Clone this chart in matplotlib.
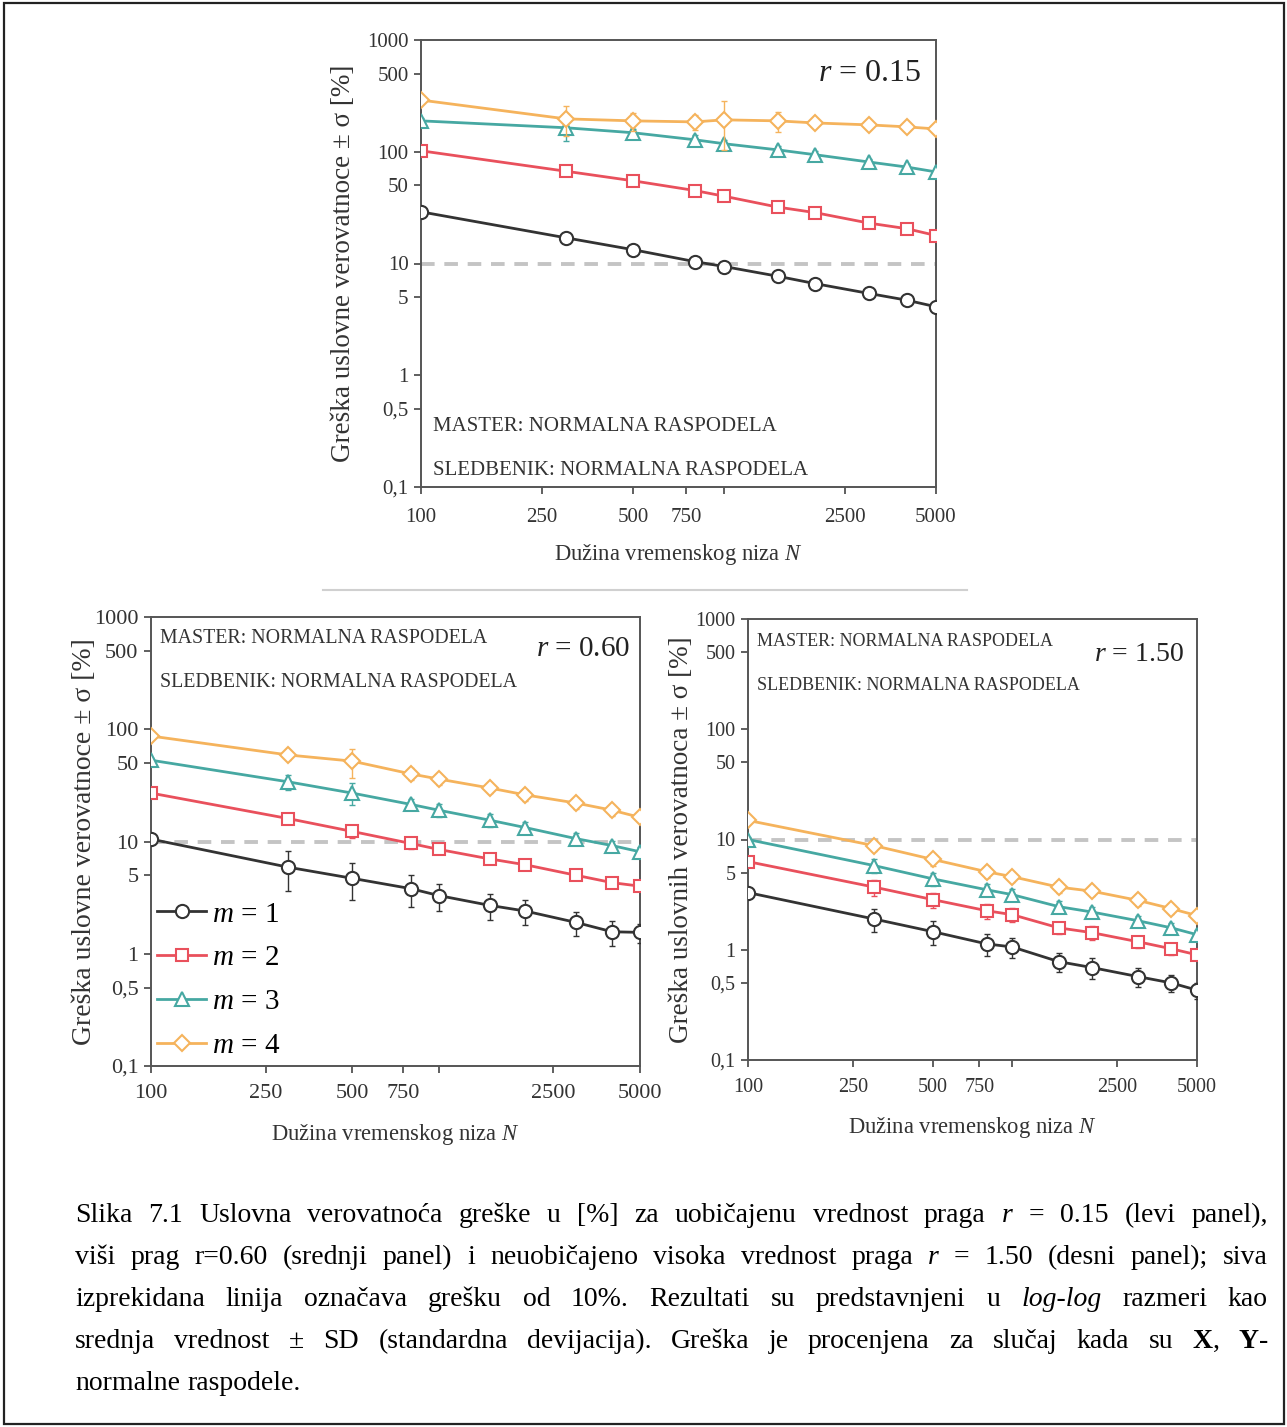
import re
import numpy as np
import matplotlib
matplotlib.use("Agg")
import matplotlib.pyplot as plt
from matplotlib.ticker import FixedLocator, FixedFormatter, NullLocator

plt.rcParams['font.family'] = ['Liberation Serif', 'DejaVu Serif']
plt.rcParams['mathtext.fontset'] = 'custom'
plt.rcParams['mathtext.rm'] = 'Liberation Serif'
plt.rcParams['mathtext.it'] = 'Liberation Serif:italic'
plt.rcParams['mathtext.bf'] = 'Liberation Serif:bold'

W, H = 1287, 1427

# duzina niza N
N = [100, 300, 500, 800, 1000, 1500, 2000, 3000, 4000, 5000]

# r = 0.15
r015_m1 = [29, 17, 13.3, 10.4, 9.4, 7.7, 6.6, 5.4, 4.7, 4.1]
r015_m2 = [102, 67, 55, 45, 40, 32, 28.5, 23, 20.5, 17.8]
r015_m3 = [189, 164, 148, 128, 118, 104, 94, 81, 73, 66]
r015_m4 = [290, 197, 189, 185, 193, 189, 181, 174, 167, 160]
r015_sd1 = [1.0, 1.2, 0.9, 0.7, 0.6, 0.4, 0.35, 0.3, 0.25, 0.2]
r015_sd2 = [4, 4, 3, 3, 2.5, 2, 1.8, 1.5, 1.2, 1.0]
r015_sd3 = [10, 40, 12, 12, 10, 9, 7, 6, 5, 4]
r015_sd4 = [15, 60, 35, 30, 90, 40, 15, 12, 10, 8]

# r = 0.60
r060_m1 = [10.5, 5.9, 4.7, 3.8, 3.3, 2.7, 2.4, 1.9, 1.57, 1.55]
r060_m2 = [27, 16, 12.3, 9.6, 8.5, 7.0, 6.2, 5.0, 4.3, 4.0]
r060_m3 = [53, 34, 27, 21.4, 19, 15.5, 13.3, 10.6, 9.2, 8.1]
r060_m4 = [87, 59, 52, 40, 36, 30, 26, 22, 19, 16.4]
r060_sd1 = [0.5, 2.3, 1.7, 1.2, 0.9, 0.7, 0.6, 0.45, 0.4, 0.3]
r060_sd2 = [1.5, 1.8, 1.5, 1.0, 0.8, 0.6, 0.6, 0.4, 0.35, 0.3]
r060_sd3 = [2.5, 5, 6, 2.5, 2.5, 2, 1.5, 1.2, 1.0, 0.8]
r060_sd4 = [4, 6, 15, 5, 4, 3, 3, 2.5, 2, 1.5]

# r = 1.50
r150_m1 = [3.3, 1.9, 1.46, 1.13, 1.06, 0.78, 0.69, 0.57, 0.5, 0.43]
r150_m2 = [6.3, 3.7, 2.85, 2.26, 2.08, 1.58, 1.43, 1.18, 1.02, 0.9]
r150_m3 = [10, 5.8, 4.4, 3.5, 3.16, 2.46, 2.2, 1.83, 1.58, 1.37]
r150_m4 = [14.9, 8.8, 6.6, 5.1, 4.6, 3.7, 3.4, 2.8, 2.36, 2.04]
r150_sd1 = [0.2, 0.45, 0.35, 0.25, 0.22, 0.15, 0.15, 0.11, 0.09, 0.07]
r150_sd2 = [0.5, 0.6, 0.45, 0.35, 0.3, 0.2, 0.2, 0.15, 0.12, 0.1]
r150_sd3 = [0.6, 0.8, 0.6, 0.45, 0.4, 0.3, 0.25, 0.2, 0.18, 0.15]
r150_sd4 = [0.8, 1.0, 0.8, 0.6, 0.5, 0.4, 0.35, 0.3, 0.25, 0.2]

colors = ['#333333', '#e9505c', '#46a8a2', '#f5b35c']
markers = ['o', 's', '^', 'D']
msizes = [9.5, 8.5, 9.5, 8.5]
labels = ['$\\mathit{m}$ = 1', '$\\mathit{m}$ = 2', '$\\mathit{m}$ = 3', '$\\mathit{m}$ = 4']

yticks = [0.1, 0.5, 1, 5, 10, 50, 100, 500, 1000]
ytick_labels = ['0,1', '0,5', '1', '5', '10', '50', '100', '500', '1000']
xticks = [100, 250, 500, 750, 1000, 2500, 5000]
xtick_labels = ['100', '250', '500', '750', '', '2500', '5000']

caption = [
    "Slika 7.1 Uslovna verovatnoća greške u [%] za uobičajenu vrednost praga *r* = 0.15 (levi panel),",
    "viši prag r=0.60 (srednji panel) i neuobičajeno visoka vrednost praga *r* = 1.50 (desni panel); siva",
    "izprekidana linija označava grešku od 10%. Rezultati su predstavnjeni u *log-log* razmeri kao",
    "srednja vrednost ± SD (standardna devijacija). Greška je procenjena za slučaj kada su **X**, **Y**-",
    "normalne raspodele.",
]


def px_box(left, top, right, bottom):
    return [left / W, 1 - bottom / H, (right - left) / W, (bottom - top) / H]


def panel(fig, box, series, sds, r_text, ylabel, fs, pos):
    ax = fig.add_axes(px_box(*box))
    ax.set_xscale('log')
    ax.set_yscale('log')
    ax.set_xlim(100, 5000)
    ax.set_ylim(0.1, 1000)
    ax.axhline(10, color='#c4c4c4', lw=2.8, ls=(0, (3.5, 2.5)), zorder=1)
    for i, (vals, sd) in enumerate(zip(series, sds)):
        ax.errorbar(N, vals, yerr=sd, fmt='none', ecolor=colors[i], elinewidth=1.0,
                    capsize=2.5, zorder=3 + i)
        ax.plot(N, vals, color=colors[i], lw=2.0, marker=markers[i], ms=msizes[i],
                mfc='white', mec=colors[i], mew=1.5, label=labels[i], zorder=3 + i)
    ax.xaxis.set_major_locator(FixedLocator(xticks))
    ax.xaxis.set_major_formatter(FixedFormatter(xtick_labels))
    ax.yaxis.set_major_locator(FixedLocator(yticks))
    ax.yaxis.set_major_formatter(FixedFormatter(ytick_labels))
    ax.xaxis.set_minor_locator(NullLocator())
    ax.yaxis.set_minor_locator(NullLocator())
    ax.tick_params(direction='out', length=5, width=1.2, color='#444444',
                   labelsize=fs['tick'], labelcolor='#333333', pad=4)
    ax.tick_params(axis='x', pad=fs['xpad'])
    for s in ax.spines.values():
        s.set_color('#555555')
        s.set_linewidth(1.4)
    ax.text(0.5, -0.152, 'Dužina vremenskog niza $\\mathit{N}$', transform=ax.transAxes,
            ha='center', va='center', fontsize=16.3, color='#333333')
    ax.text(pos['ylab'], 0.5, ylabel, transform=ax.transAxes, rotation=90,
            ha='center', va='center', fontsize=fs['ylab'], color='#333333')
    ax.text(pos['rx'], pos['ry'], r_text, transform=ax.transAxes,
            ha='right', va='center', fontsize=fs['r'], color='#222222')
    ax.text(pos['tx'], pos['t1'], 'MASTER: NORMALNA RASPODELA', transform=ax.transAxes,
            ha='left', va='center', fontsize=fs['txt'], color='#333333')
    ax.text(pos['tx'], pos['t2'], 'SLEDBENIK: NORMALNA RASPODELA', transform=ax.transAxes,
            ha='left', va='center', fontsize=fs['txt'], color='#333333')
    return ax


fig = plt.figure(figsize=(W / 100, H / 100), dpi=100)

# okvir oko cele slike
fig.patches.append(plt.Rectangle((4 / W, 1 - 1424 / H), 1280 / W, 1421 / H,
                                 transform=fig.transFigure, fill=False,
                                 edgecolor='#222222', lw=1.6))
fig.lines.append(plt.Line2D([323 / W, 967 / W], [1 - 590 / H, 1 - 590 / H],
                            transform=fig.transFigure, color='#d0d0d0', lw=1.5))

panel(fig, (421, 40, 936, 487),
      [r015_m1, r015_m2, r015_m3, r015_m4],
      [r015_sd1, r015_sd2, r015_sd3, r015_sd4],
      '$\\mathit{r}$ = 0.15', 'Greška uslovne verovatnoce ± σ [%]',
      dict(tick=15, ylab=19.5, r=23, txt=15, xpad=10),
      dict(ylab=-0.151, rx=0.972, ry=0.926, tx=0.023, t1=0.136, t2=0.038))

ax2 = panel(fig, (151, 617, 640, 1066),
            [r060_m1, r060_m2, r060_m3, r060_m4],
            [r060_sd1, r060_sd2, r060_sd3, r060_sd4],
            '$\\mathit{r}$ = 0.60', 'Greška uslovne verovatnoce ± σ [%]',
            dict(tick=16, ylab=20, r=21, txt=14.3, xpad=8),
            dict(ylab=-0.137, rx=0.98, ry=0.929, tx=0.018, t1=0.953, t2=0.855))
ax2.legend(loc='lower left', bbox_to_anchor=(0.0, 0.002), frameon=False, fontsize=21,
           numpoints=1, handlelength=1.7, handletextpad=0.2, labelspacing=0.6,
           borderaxespad=0.1, borderpad=0.1)

panel(fig, (748, 619, 1197, 1060),
      [r150_m1, r150_m2, r150_m3, r150_m4],
      [r150_sd1, r150_sd2, r150_sd3, r150_sd4],
      '$\\mathit{r}$ = 1.50', 'Greška uslovnih verovatnoca ± σ [%]',
      dict(tick=14.5, ylab=19.5, r=20, txt=13, xpad=8),
      dict(ylab=-0.147, rx=0.97, ry=0.92, tx=0.02, t1=0.95, t2=0.85))

# potpis ispod slike, poravnat obostrano
renderer = fig.canvas.get_renderer()
cap_left, cap_right = 75, 1268
baselines = [1222, 1264, 1306, 1348, 1390]
cap_fs = 20


def word_parts(word):
    parts = []
    for tok in re.split(r'(\*\*[^*]+\*\*|\*[^*]+\*)', word):
        if not tok:
            continue
        if tok.startswith('**'):
            parts.append((tok[2:-2], 'normal', 'bold'))
        elif tok.startswith('*'):
            parts.append((tok[1:-1], 'italic', 'normal'))
        else:
            parts.append((tok, 'normal', 'normal'))
    return parts


def text_width(s):
    t = fig.text(0, 0, s, fontsize=cap_fs)
    w = t.get_window_extent(renderer).width
    t.remove()
    return w


natural_gap = text_width('a b') - text_width('ab')

for li, line in enumerate(caption):
    y = 1 - baselines[li] / H
    words = []
    for w in line.split(' '):
        items = []
        for txt, style, weight in word_parts(w):
            t = fig.text(0, y, txt, fontsize=cap_fs, style=style, weight=weight,
                         va='baseline', ha='left', color='black')
            items.append((t, t.get_window_extent(renderer).width))
        words.append(items)
    widths = [sum(wd for _, wd in items) for items in words]
    if li < len(caption) - 1:
        gap = (cap_right - cap_left - sum(widths)) / (len(words) - 1)
    else:
        gap = natural_gap
    x = cap_left
    for items in words:
        for t, wd in items:
            t.set_x(x / W)
            x += wd
        x += gap

fig.savefig('out.png', dpi=100)
